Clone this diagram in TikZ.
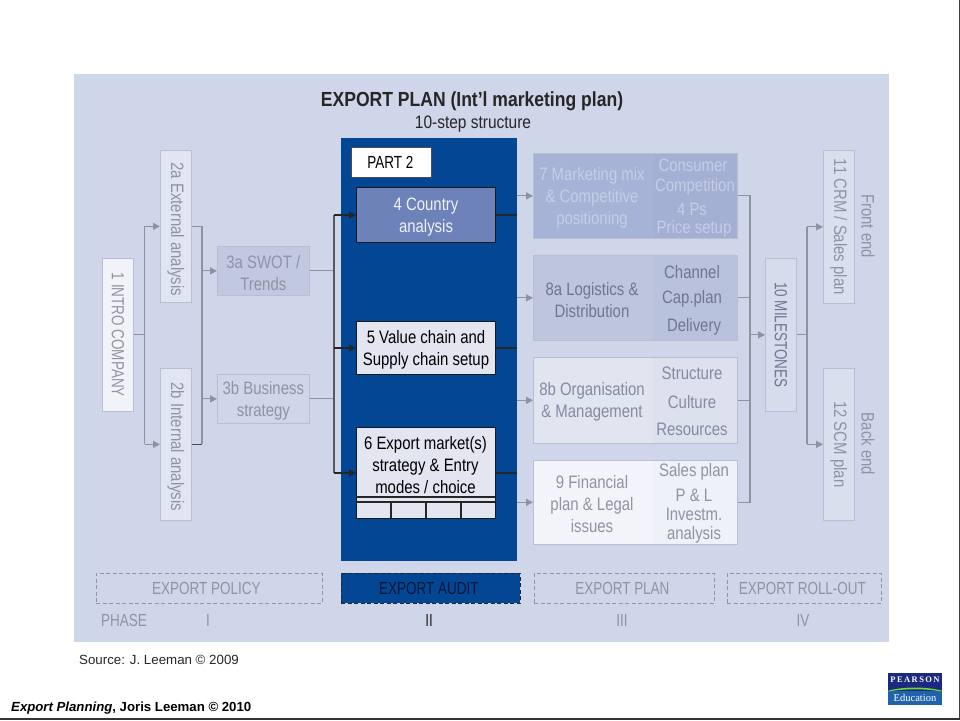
\documentclass[tikz,border=0pt]{standalone}
\usepackage{fontspec}
\usepackage{graphicx}
\setmainfont{Liberation Sans}
\newfontfamily\cf[FakeStretch=.83]{Liberation Sans}
\newfontfamily\cft[FakeStretch=.86]{Liberation Sans}
\newfontfamily\cfn[FakeStretch=.77]{Liberation Sans}
\newfontfamily\lf{Liberation Serif}
\usetikzlibrary{arrows.meta}
\definecolor{panelc}{HTML}{CFD6E9}
\definecolor{deep}{HTML}{034694}
\definecolor{linegrey}{HTML}{8E949F}
\definecolor{txtgrey}{HTML}{8F93A3}
\definecolor{edgegrey}{HTML}{B9BFD0}
\definecolor{fA}{HTML}{F1F3F8}
\definecolor{fB}{HTML}{E1E5F1}
\definecolor{fC}{HTML}{C1C9E2}
\definecolor{fD}{HTML}{6C82B8}
\definecolor{fE}{HTML}{E3E6F1}
\definecolor{f7}{HTML}{A7B3D6}
\definecolor{f7b}{HTML}{A3AFD3}
\definecolor{f8}{HTML}{BEC6DF}
\definecolor{f8b}{HTML}{B9C2DC}
\definecolor{f9}{HTML}{E1E5F0}
\definecolor{f9b}{HTML}{DDE1EE}
\definecolor{f10}{HTML}{F2F4F9}
\definecolor{f10b}{HTML}{EEF1F7}
\definecolor{t7}{HTML}{C6CEE6}
\definecolor{t8}{HTML}{6F7690}
\definecolor{navy}{HTML}{1B2A80}
\definecolor{midblue}{HTML}{1F63AC}
\tikzset{
 x=1pt,y=-1pt,
 lab/.style={inner sep=0pt,align=center,font=\cf\fontsize{18}{22}\selectfont},
 caps/.style={font=\cfn\fontsize{17.5}{22}\selectfont},
 bx/.style={lab,draw=edgegrey,line width=.7pt,fill=#1,text=txtgrey},
 blk/.style={lab,draw=black!90,line width=1pt,fill=#1,text=black},
 wire/.style={draw=linegrey,line width=1.2pt},
 arr/.style={wire,-{Triangle[length=7pt,width=7pt]}},
 dwire/.style={draw=black!85,line width=1.2pt},
 darr/.style={dwire,-{Triangle[length=7pt,width=7pt]}},
 dashbox/.style={lab,caps,draw=#1,dashed,dash pattern=on 4pt off 2.5pt,line width=.8pt},
 graytext/.style={lab,text=txtgrey},
}
\newcommand{\place}[7]{\node[#2,anchor=north west,minimum width={(#5-#3)*1pt},minimum height={(#6-#4)*1pt}] (#1) at (#3,#4) {#7};}
\newcommand{\dn}{\rule{0pt}{17.5pt}}
\begin{document}
\begin{tikzpicture}
\useasboundingbox (0,0) rectangle (960,720);
\fill[white] (0,0) rectangle (960,720);
\fill[black!75] (958.5,0) rectangle (960,720);
\fill[black!80] (0,717.5) rectangle (960,720);
\place{panel}{fill=panelc,inner sep=0pt}{74}{74}{889}{642}{}
\place{audit}{fill=deep,inner sep=0pt}{341}{138}{517}{561}{}
% title
\node[inner sep=0pt,font=\cft\bfseries\fontsize{20.4}{22}\selectfont,text=black!85] (title) at (472,101.5) {EXPORT PLAN (Int’l marketing plan)};
\node[inner sep=0pt,font=\cft\fontsize{18}{22}\selectfont,text=black!85] (sub) at (473,124.5) {10-step structure};
% phase I
\place{n1}{bx=fA,caps}{102}{258}{133}{411}{\rotatebox{-90}{1 INTRO COMPANY}}
\place{n2a}{bx=fB}{160}{150}{191}{302}{\rotatebox{-90}{\kern 6pt 2a External analysis}}
\place{n2b}{bx=fB}{160}{368}{191}{520}{\rotatebox{-90}{\kern 5pt 2b Internal analysis}}
\place{n3a}{bx=fC}{217}{246}{309}{295}{\dn 3a SWOT /\\Trends}
\place{n3b}{bx=panelc}{217}{374}{309}{423}{\dn 3b Business\\strategy}
% phase II
\place{part}{lab,fill=white,draw=black!70,line width=.6pt,text=black,caps}{351}{147}{431}{177}{\hbox{PART 2\kern 2pt}}
\place{n4}{blk=fD,text=white!90!fD}{356}{187}{495}{242}{\dn 4 Country\\analysis}
\place{n5}{blk=fE}{356}{321}{495}{374}{\dn 5 Value chain and\\Supply chain setup}
\place{n6}{blk=fE}{356}{427}{495}{518}{}
\node[lab,text=black] (n6t) at (425.5,465) {6 Export market(s)\\strategy \& Entry\\modes / choice};
\draw[dwire] (356,497) -- (495,497);
\draw[dwire] (356,502) -- (495,502);
\draw[dwire] (391,502) -- (391,518) (426,502) -- (426,518) (461,502) -- (461,518);
% phase III
\place{n7}{bx=f7}{533}{153}{737}{238}{}
\fill[f7b] (653,153.5) rectangle (736.6,237.6);
\place{n8a}{bx=f8}{533}{255}{737}{340}{}
\fill[f8b] (653,255.5) rectangle (736.6,339.6);
\place{n8b}{bx=f9}{533}{357}{737}{443}{}
\fill[f9b] (653,357.5) rectangle (736.6,442.6);
\place{n9}{bx=f10}{533}{460}{737}{544}{}
\fill[f10b] (653,460.5) rectangle (736.6,543.6);
\node[lab,text=t7] (t7) at (592,198) {7 Marketing mix\\\& Competitive\\positioning};
\node[lab,text=t7] (t7a) at (693,165) {Consumer};
\node[lab,text=t7] (t7b) at (695,186.5) {Competition};
\node[lab,text=t7] (t7c) at (692,209) {4 Ps};
\node[lab,text=t7] (t7d) at (694,229) {Price setup};
\node[lab,text=t8] (t8) at (592,300) {8a Logistics \&\\Distribution};
\node[lab,text=t8] (t8a) at (692,272) {Channel};
\node[lab,text=t8] (t8b) at (692,298.5) {Cap.plan};
\node[lab,text=t8] (t8c) at (694,327) {Delivery};
\node[graytext,text=t8!85!white] (t9) at (592,401.5) {8b Organisation\\\& Management};
\node[graytext,text=t8!85!white] (t9a) at (692,373.5) {Structure};
\node[graytext,text=t8!85!white] (t9b) at (692,402) {Culture};
\node[graytext,text=t8!85!white] (t9c) at (692,429.5) {Resources};
\node[graytext] (t10) at (592,504) {9 Financial\\plan \& Legal\\issues};
\node[graytext] (t10a) at (694,472) {Sales plan};
\node[graytext] (t10b) at (694,495) {P \& L};
\node[graytext] (t10c) at (694,514) {Investm.};
\node[graytext] (t10d) at (694,535) {analysis};
% phase IV
\place{n10}{bx=fB!40!panelc,caps,text=t8}{765}{258}{796}{411}{\rotatebox{-90}{10 MILESTONES}}
\place{n11}{bx=fB!60!panelc}{823}{150}{854}{303}{\rotatebox{-90}{11 CRM / Sales plan}}
\place{n12}{bx=fB!60!panelc}{823}{368}{854}{520}{\rotatebox{-90}{12 SCM plan}}
\node[graytext] (fe) at (868,226) {\rotatebox{-90}{Front end}};
\node[graytext] (be) at (868,444) {\rotatebox{-90}{Back end}};
% connectors
\coordinate (j1) at (144.5,0);
\draw[wire] (n1.east) -- (n1.east -| j1);
\draw[arr] (n2a.west -| j1) -- (n2a.west);
\draw[arr] (n2b.west -| j1) -- (n2b.west);
\draw[wire] (n2a.west -| j1) -- (n2b.west -| j1);
\coordinate (j2) at (202,0);
\draw[wire] (n2a.east) -- (n2a.east -| j2) -- (n2b.east -| j2);
\draw[draw=black!70,line width=1.2pt] (n2b.east) -- (n2b.east -| j2);
\draw[arr] (n3a.west -| j2) -- (n3a.west);
\draw[arr] (n3b.west -| j2) -- (n3b.west);
\coordinate (j3) at (334,0);
\draw[wire] (n3a.east) -- (n3a.east -| j3);
\draw[wire] (n3b.east) -- (n3b.east -| j3);
\draw[draw=black!65,line width=1.2pt] (n4.west -| j3) -- (n6.west -| j3);
\draw[darr] (n4.west -| j3) -- (n4.west);
\draw[darr] (n5.west -| j3) -- (n5.west);
\draw[darr] (n6.west -| j3) -- (n6.west);
\draw[dwire] (n4.east) -- (n4.east -| audit.east);
\draw[dwire] (n5.east) -- (n5.east -| audit.east);
\draw[dwire] (n6.east) -- (n6.east -| audit.east);
\draw[arr] (n7.west -| audit.east) -- (n7.west);
\draw[arr] (n8a.west -| audit.east) -- (n8a.west);
\draw[arr] (n8b.west -| audit.east) -- (n8b.west);
\draw[arr] (n9.west -| audit.east) -- (n9.west);
\coordinate (j4) at (750,0);
\draw[wire] (n7.east) -- (n7.east -| j4) -- (n9.east -| j4) -- (n9.east);
\draw[wire] (n8a.east) -- (n8a.east -| j4);
\draw[wire] (n8b.east) -- (n8b.east -| j4);
\draw[arr] (n10.west -| j4) -- (n10.west);
\coordinate (j5) at (807,0);
\draw[wire] (n10.east) -- (n10.east -| j5);
\draw[wire] (n11.west -| j5) -- (n12.west -| j5);
\draw[arr] (n11.west -| j5) -- (n11.west);
\draw[arr] (n12.west -| j5) -- (n12.west);
% phases
\place{p1}{dashbox=txtgrey,text=txtgrey}{96}{573}{322}{603}{\hbox{EXPORT POLICY\kern 6pt}}
\place{p2}{dashbox=black!85,fill=deep,text=black!65!deep}{341}{573}{520}{603}{\hbox{EXPORT AUDIT\kern 4pt}}
\place{p3}{dashbox=txtgrey,text=txtgrey}{534}{573}{714}{603}{\hbox{EXPORT PLAN\kern 4pt}}
\place{p4}{dashbox=txtgrey,text=txtgrey}{727}{573}{881}{603}{\hbox{EXPORT ROLL-OUT\kern 4pt}}
\node[graytext,caps] (ph) at (124,620.5) {PHASE};
\node[graytext,caps] (ph1) at (208,620.5) {I};
\node[lab,caps,text=black!85] (ph2) at (429,620.5) {II};
\node[graytext,caps] (ph3) at (622,620.5) {III};
\node[graytext,caps] (ph4) at (803,620.5) {IV};
% footer
\node[anchor=west,inner sep=0pt,font=\fontsize{13.3}{15}\selectfont,text=black!85] (src) at (79,660) {Source: J. Leeman © 2009};
\node[anchor=west,inner sep=0pt,font=\bfseries\fontsize{13.2}{15}\selectfont,text=black] (foot) at (11,708) {\textit{Export Planning}, Joris Leeman © 2010};
% logo
\place{logo}{fill=navy,inner sep=0pt}{888}{673}{942}{705}{}
\fill[midblue] (888,691) rectangle (942,705);
\fill[green!60!yellow!70!gray] (888.5,690.5) .. controls (905,686.5) and (925,686.5) .. (941.5,690.5) -- (941.5,691.5) .. controls (925,688.5) and (905,688.5) .. (888.5,691.5) -- cycle;
\node[inner sep=0pt,text=white,font=\lf\bfseries\fontsize{8.5}{9}\selectfont] (lg1) at (915,680) {P\,E\,A\,R\,S\,O\,N};
\node[inner sep=0pt,text=white,font=\lf\fontsize{10.5}{10}\selectfont] (lg2) at (915,697.5) {Education};
\end{tikzpicture}
\end{document}
